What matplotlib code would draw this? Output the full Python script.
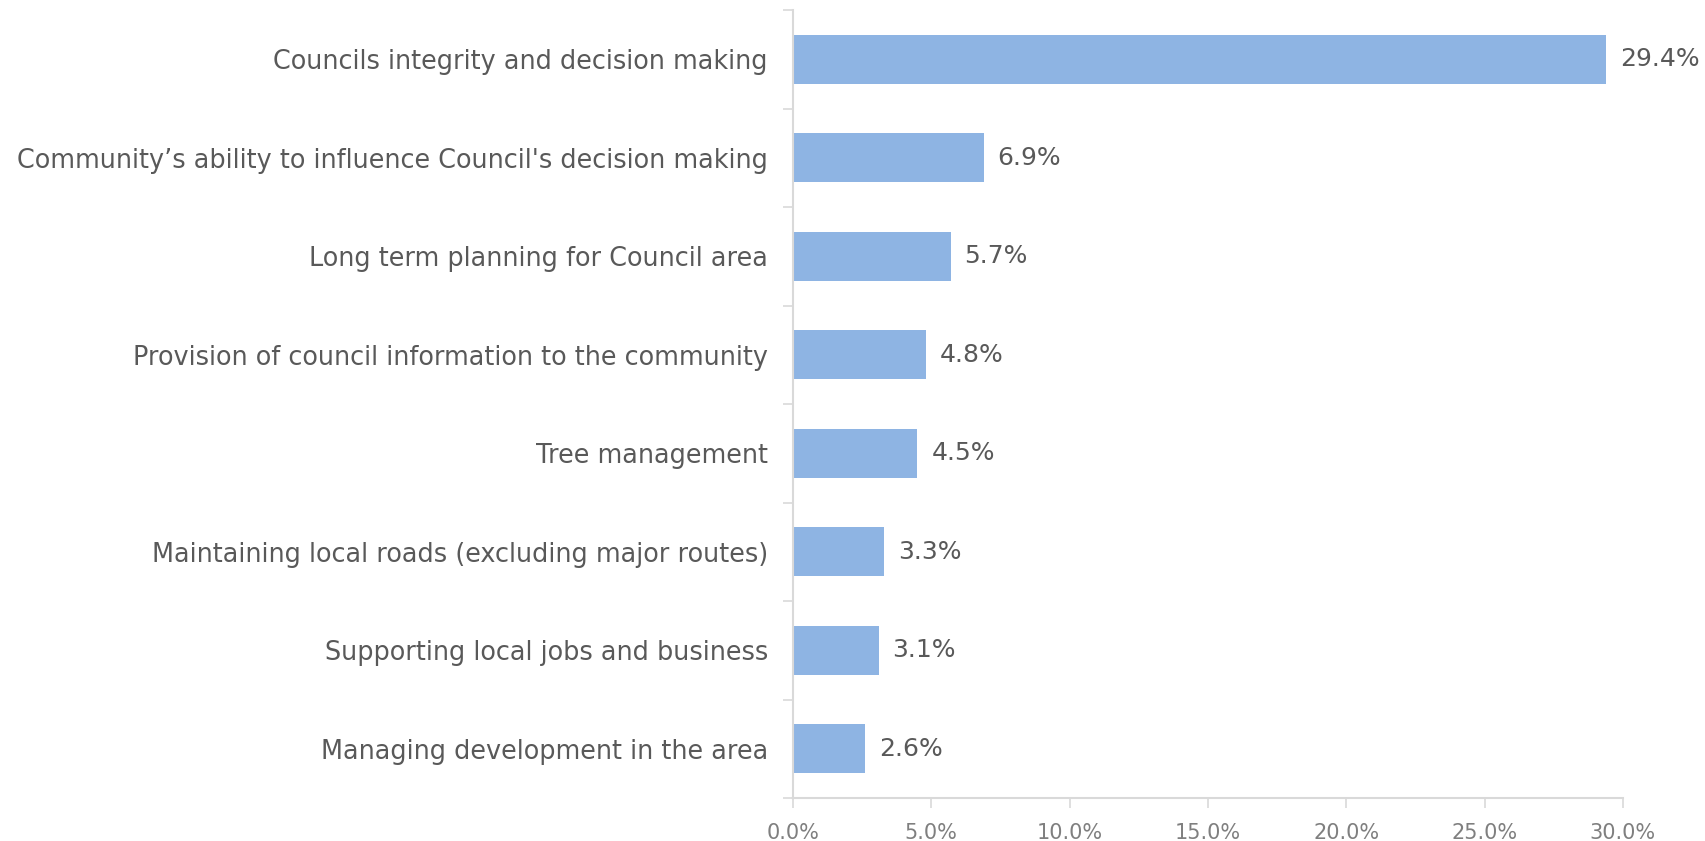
import matplotlib
matplotlib.use('Agg')
import numpy as np
import matplotlib.pyplot as plt
from matplotlib.ticker import FuncFormatter, FixedLocator
#
# data, top to bottom
#
categories = [
    "Councils integrity and decision making",
    "Community\u2019s ability to influence Council's decision making",
    "Long term planning for Council area",
    "Provision of council information to the community",
    "Tree management",
    "Maintaining local roads (excluding major routes)",
    "Supporting local jobs and business",
    "Managing development in the area",
]
values = [29.4, 6.9, 5.7, 4.8, 4.5, 3.3, 3.1, 2.6]
x_ticks = [0, 5, 10, 15, 20, 25, 30]
#
bar_color = '#8EB4E3'
text_dark = '#595959'
text_light = '#7F7F7F'
line_color = '#D9D9D9'
#
plt.rcParams['font.family'] = ['DejaVu Sans']
#
fig = plt.figure(figsize=(17.06, 8.41), dpi=100)
ax = fig.add_subplot(1, 1, 1)
fig.subplots_adjust(left=0.4648, right=0.9513, top=0.988, bottom=0.0511)
#
n = len(categories)
ypos = np.arange(n)
ax.barh(ypos, values, height=0.5, color=bar_color, zorder=2)
ax.set_ylim(n - 0.5, -0.5)
ax.set_xlim(0, 30)
#
# value labels
for y, v in zip(ypos, values):
    ax.annotate('%.1f%%' % v, xy=(v, y), xytext=(10, 0),
                textcoords='offset points', va='center', ha='left',
                fontsize=18, color=text_dark)
#
# y axis: labels at categories, tick marks at category boundaries
ax.set_yticks(ypos)
ax.set_yticklabels(categories, fontsize=18.4, color=text_dark)
ax.tick_params(axis='y', which='major', length=0, pad=18)
ax.yaxis.set_minor_locator(FixedLocator(np.arange(-0.5, n, 1.0)))
ax.tick_params(axis='y', which='minor', length=7, width=1.2, color=line_color)
#
# x axis
ax.set_xticks(x_ticks)
ax.xaxis.set_major_formatter(FuncFormatter(lambda v, p: '%.1f%%' % v))
ax.tick_params(axis='x', length=7, width=1.2, color=line_color,
               labelsize=15, labelcolor=text_light, pad=11)
#
for side in ['top', 'right']:
    ax.spines[side].set_visible(False)
for side in ['left', 'bottom']:
    ax.spines[side].set_color(line_color)
    ax.spines[side].set_linewidth(1.5)
#
plt.savefig('out.png', dpi=100)
